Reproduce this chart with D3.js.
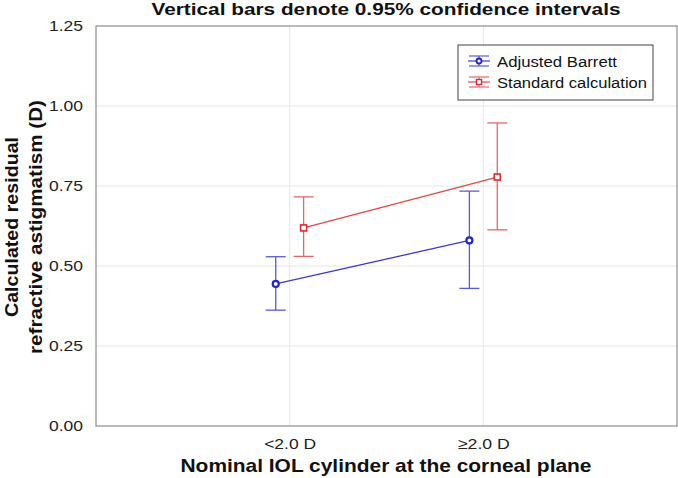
<!DOCTYPE html>
<html><head><meta charset="utf-8">
<script src="https://cdn.jsdelivr.net/npm/d3@7"></script>
<style>body{margin:0;background:#fff}svg{display:block;font-family:"Liberation Sans",Arial,sans-serif}</style>
</head><body><svg id="c" width="678" height="478"></svg>
<script>
const categories = ["<2.0 D", "\u22652.0 D"];
const seriesNames = ["Adjusted Barrett", "Standard calculation"];
const barrettMean = [0.444, 0.580];
const barrettLow = [0.362, 0.430];
const barrettHigh = [0.529, 0.734];
const standardMean = [0.619, 0.778];
const standardLow = [0.530, 0.613];
const standardHigh = [0.716, 0.947];
const yTicks = [0, 0.25, 0.5, 0.75, 1.0, 1.25];

const svg = d3.select("#c");
const L = 96, R = 677, T = 26, B = 426;
const x = d3.scaleLinear().domain([0, 3]).range([L, R]);
const y = d3.scaleLinear().domain([0, 1.25]).range([B, T]);
const FF = "Liberation Sans, Arial, sans-serif";

// grid
svg.append("g").selectAll("line").data(yTicks.slice(1, -1)).join("line")
  .attr("x1", L).attr("x2", R).attr("y1", d => y(d)).attr("y2", d => y(d))
  .attr("stroke", "#e6e6e6").attr("stroke-width", 1);
svg.append("g").selectAll("line").data([1, 2]).join("line")
  .attr("y1", T).attr("y2", B).attr("x1", d => x(d)).attr("x2", d => x(d))
  .attr("stroke", "#e6e6e6").attr("stroke-width", 1);

// frame
svg.append("rect").attr("x", L).attr("y", T).attr("width", R - L).attr("height", B - T)
  .attr("fill", "none").attr("stroke", "#777").attr("stroke-width", 1);

// y axis ticks
const ya = svg.append("g").attr("transform", `translate(${L},0)`)
  .call(d3.axisLeft(y).tickValues(yTicks).tickFormat(d3.format(".2f")).tickSize(0).tickPadding(13));
ya.select(".domain").remove();
ya.selectAll("text").attr("font-size", 15).attr("fill", "#222").attr("font-family", FF)
  .attr("textLength", 34).attr("lengthAdjust", "spacingAndGlyphs");

// x axis
const xa = svg.append("g").attr("transform", `translate(0,${B})`)
  .call(d3.axisBottom(x).tickValues([1, 2]).tickFormat(d => categories[d - 1]).tickSize(0).tickPadding(12));
xa.select(".domain").remove();
xa.selectAll("text").attr("font-size", 15).attr("fill", "#222").attr("font-family", FF)
  .attr("textLength", 52).attr("lengthAdjust", "spacingAndGlyphs");

// series
const series = [
  {name: seriesNames[0], mean: barrettMean, lo: barrettLow, hi: barrettHigh, off: -0.072, line: "#3a3ad6", bar: "#5a5ad8", pt: "#2323cc", shape: "circle", tl: 120},
  {name: seriesNames[1], mean: standardMean, lo: standardLow, hi: standardHigh, off: 0.072, line: "#e04848", bar: "#e06a6a", pt: "#dd2b2b", shape: "square", tl: 150}
];
const cap = 10;
series.forEach(s => {
  const g = svg.append("g");
  const xs = categories.map((c, i) => x(i + 1 + s.off));
  g.append("path").attr("d", d3.line()(xs.map((xx, i) => [xx, y(s.mean[i])])))
    .attr("fill", "none").attr("stroke", s.line).attr("stroke-width", 1.3);
  categories.forEach((c, i) => {
    const xx = xs[i];
    g.append("line").attr("x1", xx).attr("x2", xx).attr("y1", y(s.lo[i])).attr("y2", y(s.hi[i])).attr("stroke", s.bar).attr("stroke-width", 1.3);
    [s.lo[i], s.hi[i]].forEach(v => g.append("line").attr("x1", xx - cap).attr("x2", xx + cap).attr("y1", y(v)).attr("y2", y(v)).attr("stroke", s.bar).attr("stroke-width", 1.3));
    if (s.shape === "circle") {
      g.append("circle").attr("cx", xx).attr("cy", y(s.mean[i])).attr("r", 3).attr("fill", "#fff").attr("stroke", s.pt).attr("stroke-width", 2.2);
    } else {
      g.append("rect").attr("x", xx - 3).attr("y", y(s.mean[i]) - 3).attr("width", 6).attr("height", 6).attr("fill", "#fff").attr("stroke", s.pt).attr("stroke-width", 1.6);
    }
  });
});

// legend
const lg = svg.append("g");
lg.append("rect").attr("x", 458).attr("y", 45).attr("width", 195).attr("height", 55).attr("fill", "#fff").attr("stroke", "#444").attr("stroke-width", 1);
series.forEach((s, i) => {
  const cy = 61 + i * 21, cx = 479;
  lg.append("line").attr("x1", cx).attr("x2", cx).attr("y1", cy - 5).attr("y2", cy + 5).attr("stroke", s.bar).attr("stroke-width", 1.2);
  [cy - 5, cy + 5].forEach(yy => lg.append("line").attr("x1", cx - 10).attr("x2", cx + 10).attr("y1", yy).attr("y2", yy).attr("stroke", s.bar).attr("stroke-width", 1.2));
  lg.append("line").attr("x1", cx - 11).attr("x2", cx + 11).attr("y1", cy).attr("y2", cy).attr("stroke", s.line).attr("stroke-width", 1.2);
  if (s.shape === "circle") lg.append("circle").attr("cx", cx).attr("cy", cy).attr("r", 2.5).attr("fill", "#fff").attr("stroke", s.pt).attr("stroke-width", 1.8);
  else lg.append("rect").attr("x", cx - 2.5).attr("y", cy - 2.5).attr("width", 5).attr("height", 5).attr("fill", "#fff").attr("stroke", s.pt).attr("stroke-width", 1.4);
  lg.append("text").attr("x", 497).attr("y", cy + 6).attr("font-size", 15.5).attr("fill", "#111")
    .attr("textLength", s.tl).attr("lengthAdjust", "spacingAndGlyphs").text(s.name);
});

// titles
svg.append("text").attr("x", 386).attr("y", 15).attr("text-anchor", "middle").attr("font-size", 16.5).attr("font-weight", "bold").attr("fill", "#111")
  .attr("textLength", 469).attr("lengthAdjust", "spacingAndGlyphs").text("Vertical bars denote 0.95% confidence intervals");
svg.append("text").attr("x", 386).attr("y", 472).attr("text-anchor", "middle").attr("font-size", 18.5).attr("font-weight", "bold").attr("fill", "#111")
  .attr("textLength", 411).attr("lengthAdjust", "spacingAndGlyphs").text("Nominal IOL cylinder at the corneal plane");
const yt = svg.append("text").attr("transform", "translate(18,227) rotate(-90)").attr("text-anchor", "middle").attr("font-size", 18).attr("font-weight", "bold").attr("fill", "#111");
yt.append("tspan").attr("x", 0).attr("dy", 0).attr("textLength", 180).attr("lengthAdjust", "spacingAndGlyphs").text("Calculated residual");
yt.append("tspan").attr("x", 0).attr("dy", 24).attr("textLength", 254).attr("lengthAdjust", "spacingAndGlyphs").text("refractive astigmatism (D)");
</script></body></html>
